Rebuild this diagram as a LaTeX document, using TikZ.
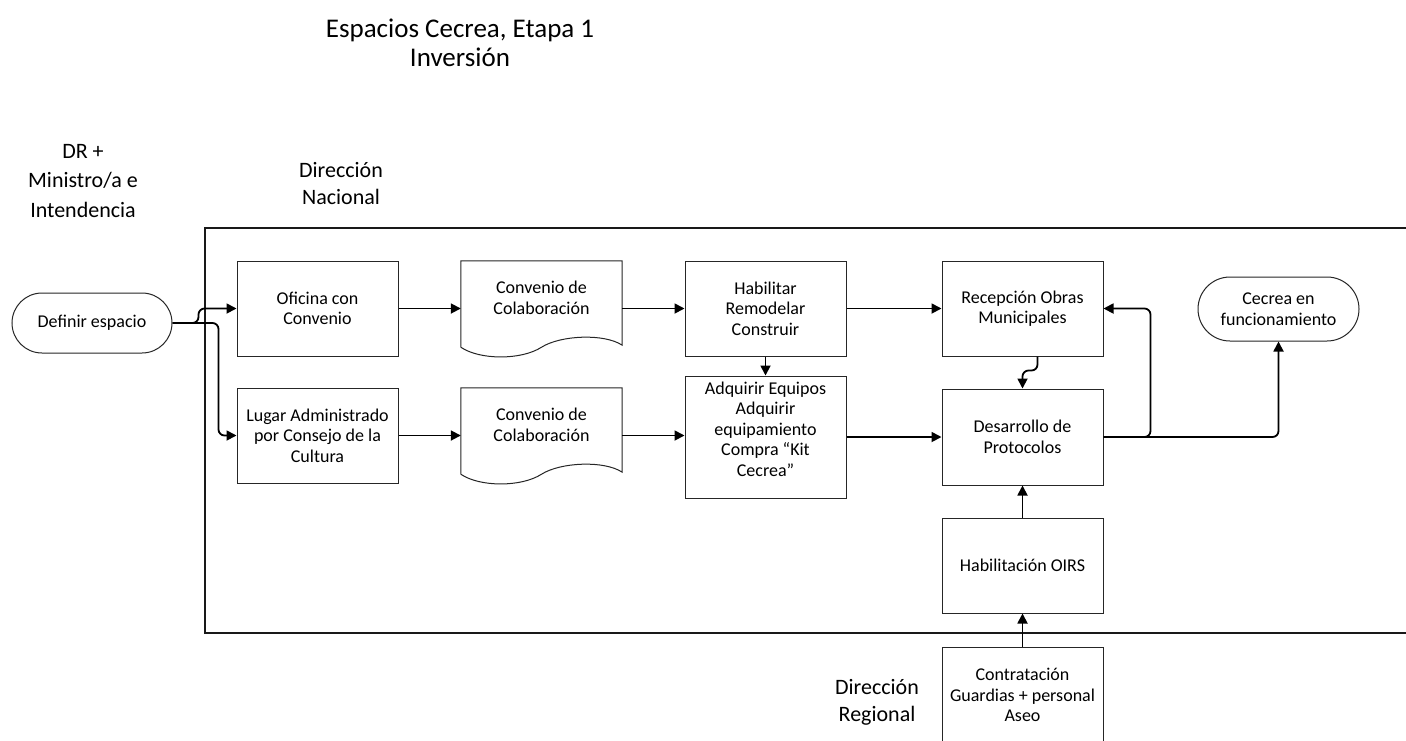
\documentclass[tikz,border=0pt]{standalone}
\usepackage{fontspec}
\setmainfont{Carlito}
\usetikzlibrary{arrows.meta,calc}
\newcommand\boxfont{\fontsize{18}{20.5}\selectfont}
\newcommand\ttlfont{\fontsize{27}{29}\selectfont}
\newcommand\labfont{\fontsize{22}{29.5}\selectfont}
\newcommand\labfontb{\fontsize{22}{27}\selectfont}
\tikzset{
  outline/.style={draw=black!85, line width=1pt},
  box/.style={outline, rectangle, minimum width=161pt, minimum height=95pt, align=center, font=\boxfont, inner sep=0pt},
  boxtext/.style={align=center, font=\boxfont, inner sep=0pt},
  doc/.style={rectangle, minimum width=161pt, minimum height=74pt, align=center, font=\boxfont, inner sep=0pt},
  term/.style={outline, rectangle, rounded corners=30pt, minimum width=160pt, minimum height=60pt, align=center, font=\boxfont, inner sep=0pt},
  conn/.style={line width=1.8pt, rounded corners=6pt, -{Triangle[length=10pt,width=10pt]}},
  frame/.style={line width=1.8pt, draw=black!90},
  lab/.style={align=center, inner sep=0pt}
}
\newcommand\docwave[1]{%
  \draw[outline] ($(#1.south west)+(0,12)$) -- (#1.north west) -- (#1.north east) -- ($(#1.south east)+(0,10)$)
    .. controls ($(#1.south east)+(-18,-2)$) and ($(#1.south)+(19,0)$) .. ($(#1.south)+(0,12)$)
    .. controls ($(#1.south)+(-20,25)$) and ($(#1.south west)+(19,25)$) .. ($(#1.south west)+(0,12)$);}
\begin{document}
\begin{tikzpicture}[x=1pt,y=-1pt]
\useasboundingbox (0,0) rectangle (1406,740);
\fill[white] (0,0) rectangle (1406,740);
\clip (0,0) rectangle (1406,740);

% frame
\draw[frame] (1420,228) -- (205,228) -- (205,633) -- (1420,633);

% labels
\node[lab, font=\ttlfont] (ttl) at (460,42.5) {Espacios Cecrea, Etapa 1\\Inversión};
\node[lab, font=\labfont] (dr) at (83,181) {DR +\\Ministro/a e\\Intendencia};
\node[lab, font=\labfontb] (dn) at (341,184) {Dirección\\Nacional};
\node[lab, font=\labfontb] (dreg) at (877,702.5) {Dirección\\Regional};

% nodes
\node[term] (def) at (92,323) {Definir espacio};
\node[box] (ofi) at (317.5,308.5) {Oficina con\\Convenio};
\node[box] (lug) at (317.5,435.5) {Lugar Administrado\\por Consejo de la\\Cultura};
\node[doc] (c1) at (541.5,298) {Convenio de\\Colaboración};
\node[doc] (c2) at (541.5,425) {Convenio de\\Colaboración};
\docwave{c1}
\docwave{c2}
\node[box] (hab) at (765.5,308.5) {Habilitar\\Remodelar\\Construir};
\node[box, minimum height=122pt] (adq) at (765.5,437) {};
\node[boxtext] (adqt) at (765.5,429) {Adquirir Equipos\\Adquirir\\equipamiento\\Compra “Kit\\Cecrea”};
\node[box] (rec) at (1022.5,308.5) {Recepción Obras\\Municipales};
\node[box, minimum height=96pt] (des) at (1022.5,437) {Desarrollo de\\Protocolos};
\node[box] (oirs) at (1022.5,565.5) {Habilitación OIRS};
\node[box, minimum height=96pt] (con) at (1022.5,695) {Contratación\\Guardias + personal\\Aseo};
\node[term, minimum width=161pt, minimum height=64pt, rounded corners=32pt] (cec) at (1278.5,309) {Cecrea en\\funcionamiento};

% connectors
\draw[conn] (def.east) -- ++(26,0) |- (ofi.west);
\draw[conn] (def.east) -- ++(46,0) |- (lug.west);
\draw[conn] (ofi.east) -- (ofi.east -| c1.west);
\draw[conn] (ofi.east -| c1.east) -- (hab.west);
\draw[conn] (lug.east) -- (lug.east -| c2.west);
\draw[conn] (lug.east -| c2.east) -- (lug.east -| adq.west);
\draw[conn] (hab.east) -- (rec.west);
\draw[conn] (adq.east) -- (adq.east -| des.west);
\draw[conn] (hab.south) -- (adq.north);
\draw[conn] ([xshift=15pt]rec.south) -- ++(0,14) -| (des.north);
\draw[conn] (des.east) -- ++(47,0) |- (rec.east);
\draw[conn] (des.east) -| (cec.south);
\draw[conn] (oirs.north) -- (des.south);
\draw[conn] (con.north) -- (oirs.south);
\end{tikzpicture}
\end{document}
